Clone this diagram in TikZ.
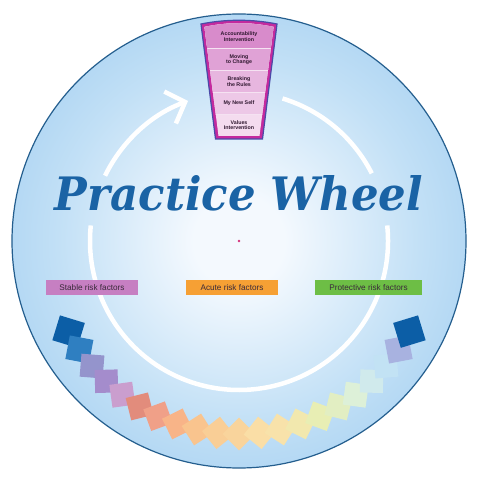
\documentclass[tikz,border=0pt]{standalone}
\usepackage{fontspec}
\setmainfont{Liberation Sans}
\newfontfamily\titlefont{DejaVu Serif}
\usepackage{graphicx}
\usepackage{tikz}
\usetikzlibrary{calc}
\usetikzlibrary{arrows.meta}

\definecolor{wheelin}{HTML}{F4F9FE}
\definecolor{wheelmid}{HTML}{C2E0F6}
\definecolor{wheelout}{HTML}{A2CEF0}
\definecolor{wheelrim}{HTML}{245E8E}
\definecolor{titleblue}{HTML}{1A63A5}
\definecolor{stackrim}{HTML}{4B4AA8}
\definecolor{stackband}{HTML}{C42A9E}
\definecolor{seg1}{HTML}{D88BCB}
\definecolor{seg2}{HTML}{E0A2D6}
\definecolor{seg3}{HTML}{E7B6DF}
\definecolor{seg4}{HTML}{EDC8E7}
\definecolor{seg5}{HTML}{F4DCEF}
\definecolor{segink}{HTML}{301830}
\definecolor{riskink}{HTML}{3A2A3A}
\definecolor{stablefill}{HTML}{C67FC2}
\definecolor{acutefill}{HTML}{F6A034}
\definecolor{protfill}{HTML}{6DBE45}
\definecolor{dotpink}{HTML}{D4327A}
% tiles along the bottom
\definecolor{sq1}{HTML}{0C5EA6}  \definecolor{sq2}{HTML}{2F7FC1}  \definecolor{sq3}{HTML}{9494CC}
\definecolor{sq4}{HTML}{A48CCC}  \definecolor{sq5}{HTML}{CA9ECE}  \definecolor{sq6}{HTML}{E28C7C}
\definecolor{sq7}{HTML}{F0A088}  \definecolor{sq8}{HTML}{F8B488}  \definecolor{sq9}{HTML}{F9C48E}
\definecolor{sq10}{HTML}{F9CE96} \definecolor{sq11}{HTML}{F9D49C} \definecolor{sq12}{HTML}{FADEA6}
\definecolor{sq13}{HTML}{F8E2AA} \definecolor{sq14}{HTML}{F2E8AE} \definecolor{sq15}{HTML}{E8EEB4}
\definecolor{sq16}{HTML}{E2EEC2} \definecolor{sq17}{HTML}{DDF0D8} \definecolor{sq18}{HTML}{D0EAEC}
\definecolor{sq19}{HTML}{C2E2F4} \definecolor{sq20}{HTML}{A8B2E0} \definecolor{sq21}{HTML}{0C5EA6}

\pgfdeclareradialshading{wheel}{\pgfpoint{0bp}{0bp}}{color(0bp)=(wheelin); color(5bp)=(wheelin); color(20bp)=(wheelmid); color(32bp)=(wheelout); color(50bp)=(wheelout)}

\begin{document}
\begin{tikzpicture}[x=1pt,y=1pt,
  ring/.style={draw=white, line width=4.5pt},
  tile/.style={rectangle, inner sep=0},
  segtext/.style={align=center, inner sep=0, text=segink, font=\fontsize{5.3}{5.8}\selectfont\bfseries},
  riskbox/.style={rectangle, inner sep=0, minimum height=15, text=riskink, font=\fontsize{8.2}{9}\selectfont}]
\useasboundingbox (-239,-253) rectangle (240,241);
\coordinate (O) at (0,0);

\shade[shading=wheel] (O) circle (227);
\draw[wheelrim, line width=1.2pt] (O) circle (227);

\foreach \i/\s [evaluate=\i as \a using -152+(\i-1)*6.2] in
  {1/26,2/24,3/23,4/23,5/23,6/23,7/23,8/23,9/23,10/23,11/23,
   12/23,13/23,14/23,15/23,16/23,17/23,18/23,19/23,20/24,21/26}
  \node[tile, fill=sq\i, minimum size=\s, rotate=\a+45] (SQ\i) at (\a:193) {};

\draw[ring] (73:149) arc (73:27:149);
\draw[ring] (6:149) arc (6:-186:149);
\draw[ring, -{Straight Barb[length=16pt,width=34pt]}] (-206:149) arc (-206:-250:149);

\node (TITLE) at (0,30) [anchor=base, inner sep=0, text=titleblue]
  {\resizebox{368pt}{35pt}{\titlefont\bfseries\itshape Practice Wheel}};

\coordinate (TL) at (-38,217); \coordinate (TR) at (38,217);
\coordinate (BL) at (-23.5,102); \coordinate (BR) at (23.5,102);
\coordinate (ITL) at (-34.5,214); \coordinate (ITR) at (34.5,214);
\coordinate (IBL) at (-20.5,105); \coordinate (IBR) at (20.5,105);
\draw[draw=stackrim, fill=stackband, line width=1.2pt]
  (BL) -- (TL) .. controls (-13,222) and (13,222) .. (TR) -- (BR) -- cycle;
\begin{scope}
\clip (IBL) -- (ITL) .. controls (-12,219) and (12,219) .. (ITR) -- (IBR) -- cycle;
\fill[seg5] (-40,100) rectangle (40,225);
\foreach \c [count=\k] in {seg4,seg3,seg2,seg1}
  \fill[\c] (-40,{105+\k*21.8}) rectangle (40,225);
\foreach \k in {1,...,4}
  \draw[white!60!seg3, line width=0.6pt] (-40,{105+\k*21.8}) -- (40,{105+\k*21.8});
\end{scope}
\node[segtext] (SEGA) at (0,204) {Accountability\\Intervention};
\node[segtext] (SEGB) at (0,181.3) {Moving\\to Change};
\node[segtext] (SEGC) at (0,159.5) {Breaking\\the Rules};
\node[segtext] (SEGD) at (0,137.7) {My New Self};
\node[segtext] (SEGE) at (0,115.9) {Values\\Intervention};

\node[riskbox, fill=stablefill, minimum width=92] (STABLE) at (-147,-46.5) {Stable risk factors};
\node[riskbox, fill=acutefill, minimum width=92] (ACUTE) at (-7,-46.5) {Acute risk factors};
\node[riskbox, fill=protfill, minimum width=107] (PROTECT) at (129.5,-46.5) {Protective risk factors};

\fill[dotpink] (O) circle (1.3);
\end{tikzpicture}
\end{document}
